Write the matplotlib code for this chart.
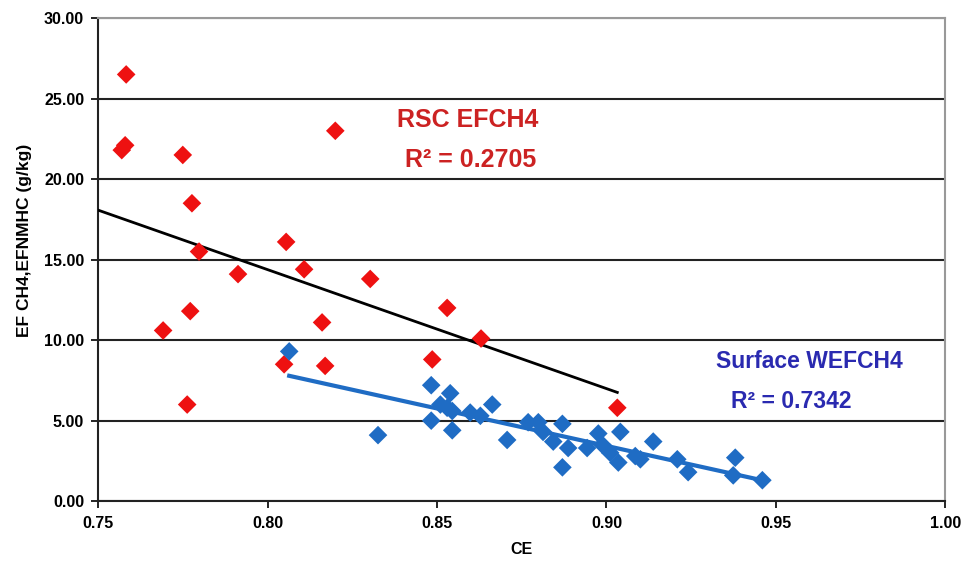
import numpy as np
import matplotlib
matplotlib.use("Agg")
import matplotlib.pyplot as plt

# RSC EFCH4 (red diamonds)
rsc_ce = [0.7570, 0.7580, 0.7583, 0.7692, 0.7750, 0.7763, 0.7772, 0.7777, 0.7798,
          0.7913, 0.8049, 0.8055, 0.8108, 0.8161, 0.8170, 0.8200, 0.8303, 0.8486,
          0.8530, 0.8630, 0.9032]
rsc_ef = [21.8, 22.1, 26.5, 10.6, 21.5, 6.0, 11.8, 18.5, 15.5,
          14.1, 8.5, 16.1, 14.4, 11.1, 8.4, 23.0, 13.8, 8.8,
          12.0, 10.1, 5.8]
# trendline of the RSC series (slope, intercept)
rsc_trend = (-73.9, 73.5)

# Surface WEFCH4 (blue diamonds)
sfc_ce = [0.8064, 0.8326, 0.8483, 0.8483, 0.8510, 0.8530, 0.8539, 0.8545, 0.8545,
          0.8598, 0.8628, 0.8663, 0.8707, 0.8769, 0.8799, 0.8813, 0.8843, 0.8870,
          0.8870, 0.8887, 0.8943, 0.8976, 0.8988, 0.9011, 0.9035, 0.9041, 0.9085,
          0.9100, 0.9138, 0.9209, 0.9241, 0.9374, 0.9380, 0.9460]
sfc_ef = [9.3, 4.1, 7.2, 5.0, 6.0, 5.8, 6.7, 5.6, 4.4,
          5.5, 5.3, 6.0, 3.8, 4.9, 4.9, 4.3, 3.7, 4.8,
          2.1, 3.3, 3.3, 4.2, 3.5, 3.0, 2.4, 4.3, 2.8,
          2.6, 3.7, 2.6, 1.8, 1.6, 2.7, 1.3]

xticks = [0.75, 0.80, 0.85, 0.90, 0.95, 1.00]
yticks = [0, 5, 10, 15, 20, 25, 30]

red = "#ee1111"
blue = "#1f6cc4"
font = "Liberation Sans"

fig = plt.figure(figsize=(9.64, 5.65), dpi=100)
ax = fig.add_axes([0.1017, 0.113, 0.879, 0.855])

# linear trendlines
xr = np.array([0.75, max(rsc_ce)])
ax.plot(xr, rsc_trend[0] * xr + rsc_trend[1], color="black", lw=2, zorder=3)

k_b, b_b = np.polyfit(sfc_ce, sfc_ef, 1)
xb = np.array([min(sfc_ce), max(sfc_ce)])
ax.plot(xb, k_b * xb + b_b, color=blue, lw=3, zorder=3)

ax.scatter(rsc_ce, rsc_ef, marker="D", s=90, color=red, edgecolors="none", zorder=4)
ax.scatter(sfc_ce, sfc_ef, marker="D", s=90, color=blue, edgecolors="none", zorder=4)

ax.set_xlim(0.75, 1.00)
ax.set_ylim(0, 30)
ax.set_xticks(xticks)
ax.set_yticks(yticks)
ax.set_xticklabels([f"{v:.2f}" for v in xticks])
ax.set_yticklabels([f"{v:.2f}" for v in yticks])

ax.yaxis.grid(True, color="#222222", lw=1.5)
ax.set_axisbelow(True)
for s in ["top", "right"]:
    ax.spines[s].set_color("#999999")
    ax.spines[s].set_linewidth(1.5)
for s in ["left", "bottom"]:
    ax.spines[s].set_color("#222222")
    ax.spines[s].set_linewidth(1.5)
ax.tick_params(length=5, width=1.2, labelsize=11.5)
ax.tick_params(axis="y", pad=5)
ax.tick_params(axis="x", pad=6)
for lab in ax.get_xticklabels() + ax.get_yticklabels():
    lab.set_fontweight("bold")
    lab.set_family(font)

ax.set_xlabel("CE", fontsize=11.5, fontweight="bold", family=font)
ax.xaxis.set_label_coords(0.5, -0.085)
ax.set_ylabel("EF CH4,EFNMHC (g/kg)", fontsize=12.5, fontweight="bold", family=font)
ax.yaxis.set_label_coords(-0.078, 0.54)

ax.text(0.859, 23.7, "RSC EFCH4", color="#cc2222", fontsize=18, fontweight="bold",
        family=font, ha="center", va="center")
ax.text(0.860, 21.2, "R² = 0.2705", color="#cc2222", fontsize=18, fontweight="bold",
        family=font, ha="center", va="center")
ax.text(0.960, 8.7, "Surface WEFCH4", color="#2a2ab0", fontsize=16.5, fontweight="bold",
        family=font, ha="center", va="center")
ax.text(0.9545, 6.2, "R² = 0.7342", color="#2a2ab0", fontsize=16.5, fontweight="bold",
        family=font, ha="center", va="center")

fig.savefig("out.png", dpi=100)
